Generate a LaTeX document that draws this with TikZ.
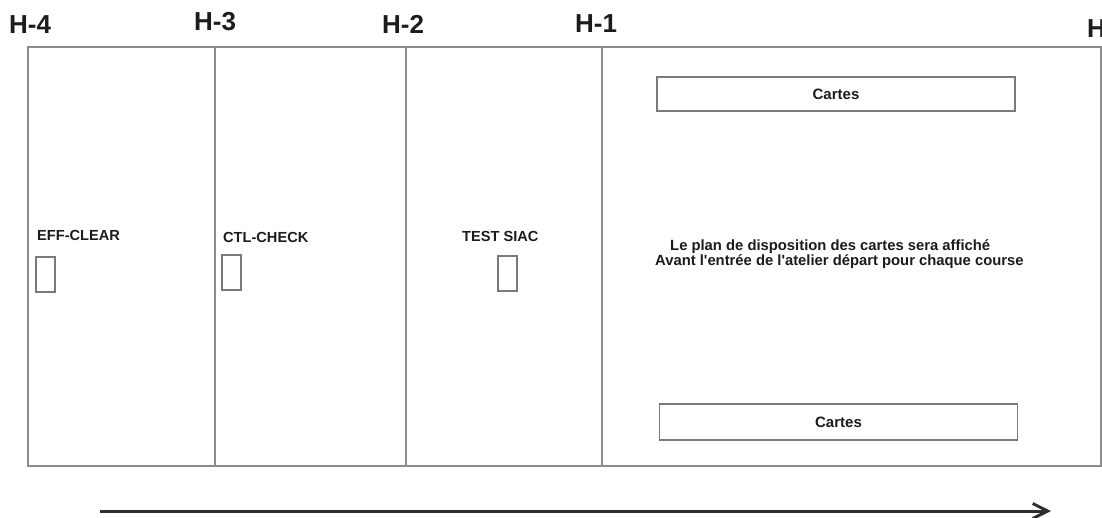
\documentclass[tikz,border=0pt]{standalone}
\usepackage{fontspec}
\setmainfont{Liberation Sans}[Ligatures=TeXOff]
\usetikzlibrary{arrows.meta}
\definecolor{framegray}{HTML}{8C8C8C}
\definecolor{boxgray}{HTML}{7A7A7A}
\definecolor{inkdark}{HTML}{1C1C1C}
\begin{document}
\begin{tikzpicture}[x=1pt,y=-1pt,
  hlabel/.style={anchor=base west,inner sep=0pt,text=inkdark,font=\fontsize{26}{30}\selectfont\bfseries},
  steplabel/.style={anchor=base west,inner sep=0pt,text=inkdark,font=\fontsize{14.6}{17}\selectfont\bfseries},
  slotbox/.style={draw=boxgray,line width=1.4pt,minimum width=19pt,minimum height=35pt,inner sep=0pt},
  cartebox/.style={draw=boxgray,line width=1.4pt,minimum width=358pt,minimum height=34pt,inner sep=0pt,text=inkdark,font=\fontsize{15}{18}\selectfont\bfseries},
  frameline/.style={draw=framegray,line width=1.6pt},
  timearrow/.style={draw=inkdark!92,line width=3pt,-{Straight Barb[length=15pt,width=15pt]}}
]
\useasboundingbox (0,0) rectangle (1102,517);
\clip (0,0) rectangle (1102,517);
\fill[white] (0,0) rectangle (1102,517);

% frame
\coordinate (fNW) at (28,47);
\coordinate (fSE) at (1101,466);
\draw[frameline] (fNW) rectangle (fSE);
\coordinate (d1t) at (215,47); \coordinate (d1b) at (215,466);
\coordinate (d2t) at (406,47); \coordinate (d2b) at (406,466);
\coordinate (d3t) at (602,47); \coordinate (d3b) at (602,466);
\draw[frameline] (d1t) -- (d1b);
\draw[frameline] (d2t) -- (d2b);
\draw[frameline] (d3t) -- (d3b);

% hour labels
\node[hlabel] (h4) at (9,33) {H-4};
\node[hlabel] (h3) at (194,30) {H-3};
\node[hlabel] (h2) at (382,33) {H-2};
\node[hlabel] (h1) at (575,32) {H-1};
\node[hlabel] (h0) at (1087,37) {H};

% steps
\node[steplabel] (eff) at (37,240) {EFF-CLEAR};
\node[slotbox] (effbox) at (45.5,274.5) {};
\node[steplabel] (ctl) at (223,242) {CTL-CHECK};
\node[slotbox] (ctlbox) at (231.5,272.5) {};
\node[steplabel] (siac) at (462,241) {TEST SIAC};
\node[slotbox] (siacbox) at (507.5,273.5) {};

% cartes
\node[cartebox] (cartesTop) at (836,94) {Cartes};
\node[cartebox,minimum height=36pt] (cartesBot) at (838.5,422) {Cartes};

\node[steplabel,font=\fontsize{14.8}{17}\selectfont\bfseries] (planA) at (670,250) {Le plan de disposition des cartes sera affiché};
\node[steplabel,font=\fontsize{14.8}{17}\selectfont\bfseries] (planB) at (655,265) {Avant l'entrée de l'atelier départ pour chaque course};

% time arrow
\coordinate (arrS) at (100,511);
\coordinate (arrE) at (1051,511);
\draw[timearrow] (arrS) -- (arrE);
\end{tikzpicture}
\end{document}
